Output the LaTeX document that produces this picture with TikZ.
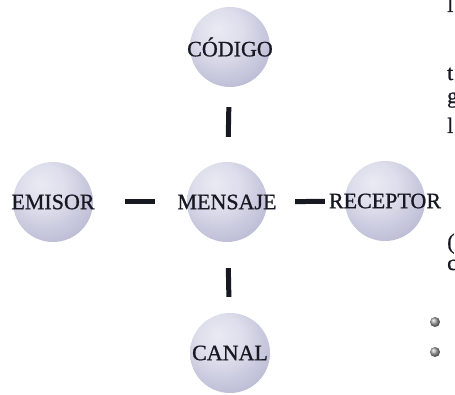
\documentclass[tikz,border=0pt]{standalone}
\usepackage{fontspec}
\setmainfont{Liberation Serif}
\newfontfamily\labfont[FakeBold=0.9]{Liberation Serif}
\definecolor{sphL}{RGB}{234,234,244}
\definecolor{sphM}{RGB}{186,186,212}
\definecolor{sphD}{RGB}{118,118,160}
\definecolor{ink}{RGB}{24,24,34}
\pgfdeclareradialshading{sphere}{\pgfpoint{-8bp}{12bp}}{%
  color(0bp)=(sphL); color(14bp)=(sphL!75!sphM); color(34bp)=(sphM);
  color(56bp)=(sphD); color(70bp)=(sphD)}
\tikzset{
  ballnode/.style={circle, minimum size=80pt, inner sep=0pt, shading=sphere,
    label={[text=ink, font=\labfont\fontsize{22}{26}\selectfont, inner sep=0pt]center:#1}},
  bar/.style={draw=ink, line width=5pt},
  frag/.style={text=ink, font=\labfont\fontsize{22}{26}\selectfont, anchor=base west, inner sep=0pt},
  bullet/.style={circle, minimum size=10pt, inner sep=0pt, ball color=gray!70}
}
\begin{document}
\begin{tikzpicture}[x=1pt,y=-1pt]
\useasboundingbox (0,0) rectangle (455,395);
\clip (0,0) rectangle (455,395);
\node[ballnode=CÓDIGO]   (codigo)   at (230,47)  {};
\node[ballnode=EMISOR]   (emisor)   at (53,202)  {};
\node[ballnode=MENSAJE]  (mensaje)  at (227,202) {};
\node[ballnode=RECEPTOR] (receptor) at (385,201) {};
\node[ballnode=CANAL]    (canal)    at (230,353) {};
\draw[bar, shorten <=32pt, shorten >=32pt] (emisor) -- (mensaje);
\draw[bar, shorten <=28pt, shorten >=20pt] (mensaje) -- (receptor);
\draw[bar, shorten <=20pt, shorten >=25pt] (codigo) -- (mensaje);
\draw[bar, shorten <=26pt, shorten >=16pt] (mensaje) -- (canal);
% cut-off letters at the right edge
\node[frag] (f1) at (447,12)  {l};
\node[frag] (f2) at (447,80)  {t};
\node[frag] (f3) at (447,103) {g};
\node[frag] (f4) at (447,133) {l};
\node[frag] (f5) at (447,249) {(};
\node[frag] (f6) at (447,270) {c};
\node[bullet] (b1) at (435,322) {};
\node[bullet] (b2) at (435,352) {};
\end{tikzpicture}
\end{document}
